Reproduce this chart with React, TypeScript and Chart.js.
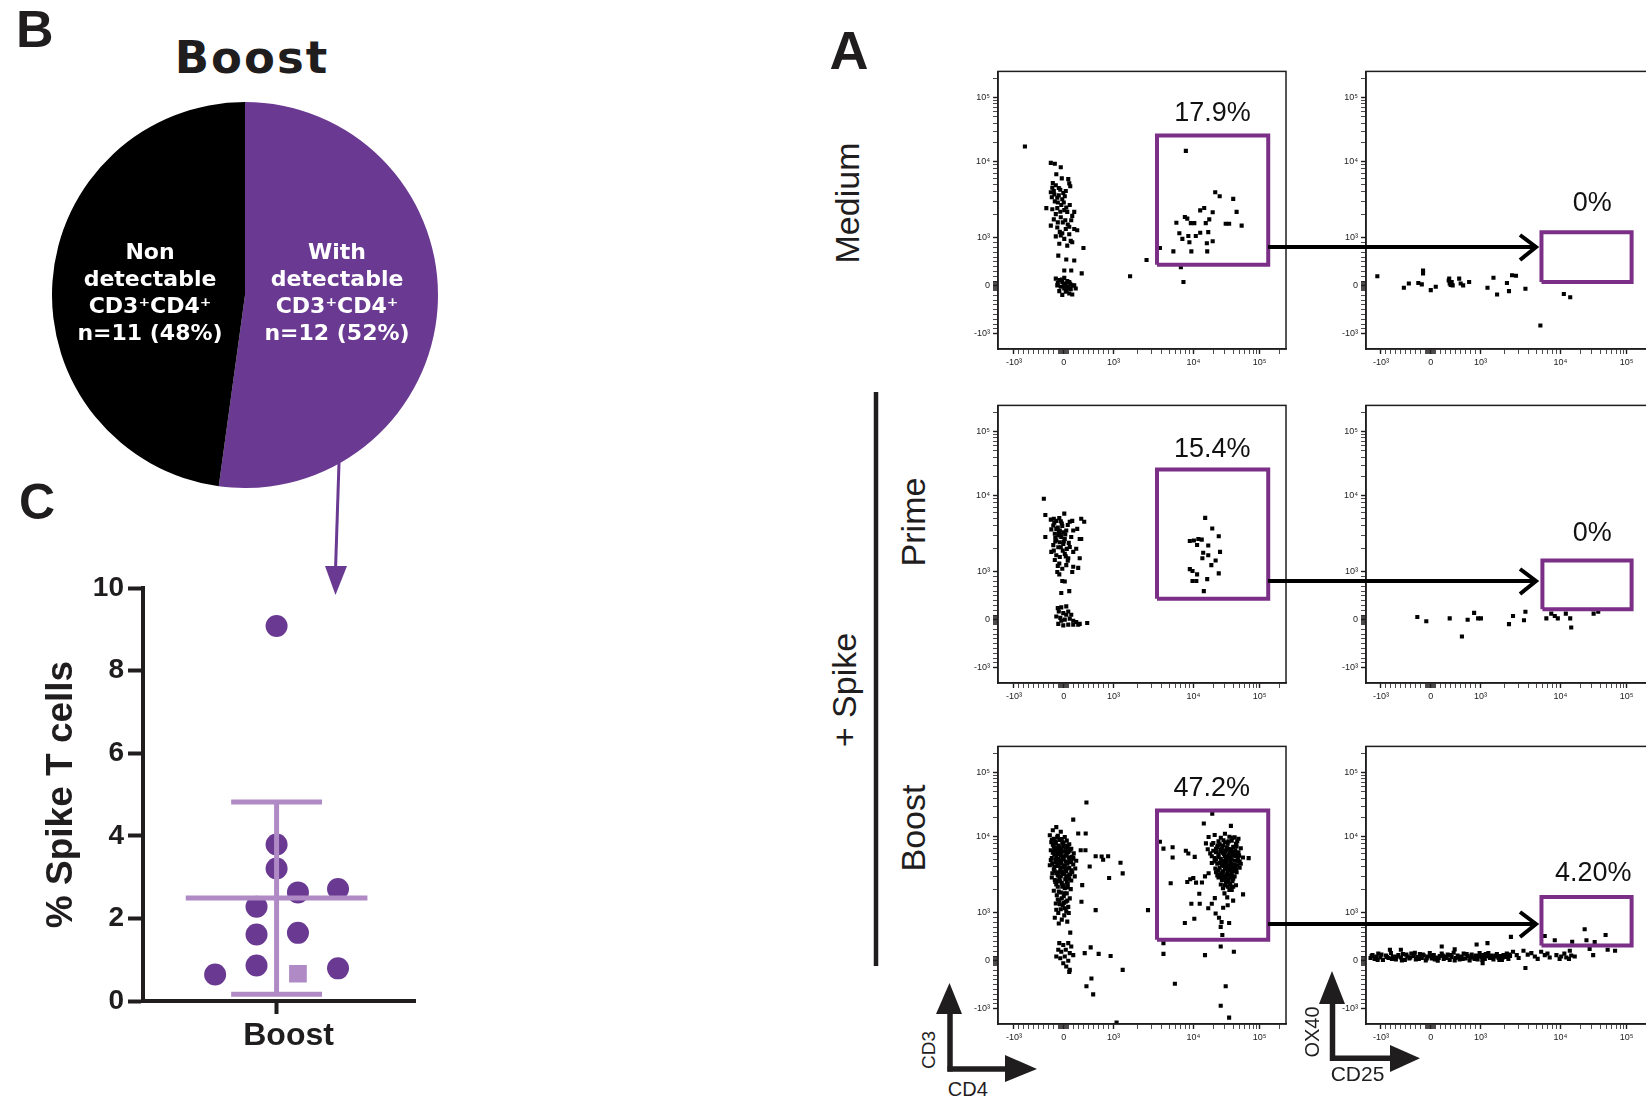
import React, { useEffect, useRef } from 'react';
import { Chart, registerables } from 'chart.js';
Chart.register(...registerables);

const ARIAL = '"Liberation Sans", Arial, Helvetica, sans-serif';
const DEJAVU = '"DejaVu Sans", Verdana, sans-serif';
const PURPLE = '#6a3a92';
const LIGHT_PURPLE = '#b08ac5';
const GATE_PURPLE = '#7b2f86';
const INK = '#1f1d1e';

// ---------------- Panel B (pie) ----------------
const pieGroups = ['With detectable CD3+CD4+', 'Non detectable CD3+CD4+'];
const pieCounts = [12, 11];
const piePercents = [52, 48];

// ---------------- Panel C (dot plot) ----------------
const cCategory = ['Boost'];
const cTicks = [0, 2, 4, 6, 8, 10];
const spikeValues = [9.08, 3.79, 3.21, 2.63, 2.71, 2.28, 1.61, 1.65, 0.86, 0.64, 0.79];
const spikeJitter = [0, 0, 0, 0.16, 0.46, -0.15, -0.15, 0.16, -0.15, -0.46, 0.46];
const spikeSquareValues = [0.66];
const spikeSquareJitter = [0.16];

// ---------------- Panel A (flow cytometry) ----------------
const flowMajorTicks = [-1000, 0, 1000, 10000, 100000];
const flowMajorLabels = ['-10³', '0', '10³', '10⁴', '10⁵'];
const flowMinorTicks = [-900, -800, -700, -600, -500, -400, -300, -200, -100, -80, -60, -40, -20, 20, 40, 60, 80,
  100, 200, 300, 400, 500, 600, 700, 800, 900, 2000, 3000, 4000, 5000, 6000, 7000, 8000, 9000,
  20000, 30000, 40000, 50000, 60000, 70000, 80000, 90000, 200000];

const percentLabels = [['17.9%', '0%'], ['15.4%', '0%'], ['47.2%', '4.20%']];
const rowNames = ['Medium', 'Prime', 'Boost'];

// gates: [min, max] on each axis (raw fluorescence)
const gateCD4 = [3500, 135000];
const gateCD3 = [440, 25500];
const gateCD25 = [[5800, 119000], [5960, 119000], [5800, 119000]];
const gateOX40 = [[80, 1190], [220, 1410], [320, 1610]];

const mediumCD4CD3 = [
  [-780, 17100],
  [-260, 9570], [-180, 9300], [-60, 8400], [90, 5870], [110, 5160], [130, 4730],
  [-230, 4530], [-160, 4870], [-70, 4270], [-10, 3870], [-190, 3700], [-130, 3350], [-30, 3200], [-260, 3960],
  [-350, 2450], [-230, 2370], [-130, 2450], [10, 2310], [70, 2190], [170, 1940], [210, 2190], [-160, 2050], [-60, 1860],
  [-260, 1450], [-130, 1370], [40, 1310], [210, 1310], [270, 1260], [110, 1120], [-60, 1080], [10, 980], [140, 940],
  [-90, 880], [70, 840], [170, 910], [395, 790], [-110, 630], [50, 550], [210, 530], [10, 320], [150, 320], [360, 260],
  [-200, 4100], [-100, 3600], [-50, 2700], [0, 2900], [50, 2500], [-120, 2900], [-20, 1600], [80, 1500], [-80, 1200], [150, 1700],
  [-150, 6800], [-40, 6000], [-220, 5200], [-100, 4500], [40, 4100], [-240, 3400], [20, 3500], [-180, 3000], [120, 2700],
  [-70, 2200], [-200, 1750], [30, 1700], [-120, 1600], [110, 1400], [-30, 1150], [-160, 1050],
  [-160, 150], [-90, 120], [-30, 80], [40, 50], [110, 80], [170, 10], [-130, 10], [-60, -20], [10, -55], [70, -20],
  [140, -70], [210, 10], [240, -55], [-90, -110], [40, -125], [110, -160], [170, -180], [-30, -190], [70, 100], [10, 165],
  [-120, 60], [0, 20], [60, -90], [130, 40], [-40, 130], [90, -40],
  [1610, 200], [2590, 540], [6980, 390], [7520, 80],
  [8060, 14600], [3810, 790], [5620, 720], [6130, 1580], [6680, 1150], [7290, 980], [7830, 1880], [8400, 1790],
  [8660, 1060], [8930, 910], [9300, 1560], [9450, 720], [10350, 1560], [10900, 1060], [12700, 1170], [12700, 2290],
  [14600, 2460], [15400, 1560], [16000, 890], [16200, 720], [16800, 1190], [17400, 1750], [19600, 2170], [19600, 930],
  [21400, 3960], [25000, 3500], [30800, 1530], [34700, 1530], [40000, 3240], [45000, 2190], [53600, 1450],
];

const mediumCD25OX40 = [
  [-1110, 200], [-540, -40], [-440, 50], [-250, 60], [-180, 30], [-155, 320], [-155, 260], [0, -90], [100, -20],
  [370, 150], [380, 50], [420, 80], [440, 10], [360, 110], [400, 20], [570, 150], [600, 50], [650, 10], [770, 80],
  [1220, -40], [1450, 170], [1610, -180], [2140, 60], [2270, -110], [2480, 220], [2780, 210], [3650, -60],
  [5620, -830], [11300, -170], [14100, -240],
];

const primeCD4CD3 = [
  [-400, 9040], [-370, 5540], [-370, 2860],
  [-260, 4830], [-200, 4960], [-150, 4650], [-90, 5050], [10, 5770], [120, 4530], [170, 4650], [350, 4960], [410, 4530],
  [-210, 4040], [-150, 3650], [-80, 3480], [-10, 3290], [-180, 3160], [-110, 2990], [-50, 2860], [20, 2700], [-150, 2590],
  [-80, 2440], [-10, 2330], [-210, 2240], [50, 3480], [-30, 3990],
  [190, 3480], [270, 3650], [150, 2860], [320, 2700], [350, 2700],
  [-120, 3800], [-60, 3100], [0, 2500], [-170, 2800], [-40, 4300], [60, 2000], [-20, 1900], [-110, 2100],
  [-190, 4400], [-60, 4600], [80, 4100], [-250, 3600], [-100, 3300], [30, 3100], [-170, 2500], [100, 2400], [-60, 2100],
  [-200, 1900], [40, 1600], [-120, 1200], [80, 1400], [-30, 1100],
  [-250, 1830], [-150, 1650], [-80, 1570], [20, 1720], [90, 1510], [190, 1830], [250, 2010], [120, 2120], [320, 1510],
  [290, 1130], [-180, 1430], [-90, 1290], [50, 1230], [190, 1170], [170, 1000], [-130, 1000], [-90, 950], [-30, 810],
  [20, 800], [-50, 560], [110, 600],
  [-120, 245], [-50, 260], [50, 280], [-100, 175], [-10, 140], [90, 175], [150, 105], [-150, 70], [-70, 40], [20, 5],
  [120, 25], [190, -20], [250, -45], [320, -85], [470, -65], [-110, -85], [-10, -115], [90, -100], [190, -100],
  [290, -100], [-50, -20], [50, 105],
  [15100, 5080], [19300, 3700], [24200, 2930], [11900, 2700], [10200, 2580], [9040, 2540], [13400, 2640], [11400, 2250],
  [16800, 2220], [25300, 1830], [14100, 1780], [16800, 1650], [13700, 1510], [21700, 1410], [18700, 1230], [9040, 1090],
  [9770, 1030], [24200, 970], [11400, 950], [9770, 810], [11100, 810], [16200, 850], [14400, 600],
];

const primeCD25OX40 = [
  [-270, 60], [-90, -30], [380, 30], [625, -350], [740, 0], [870, 145], [950, 30], [1010, 30], [2270, -90],
  [2550, 80], [3500, -10], [3650, 170], [6680, 30], [7700, 130], [8520, 80], [9300, 30], [12100, 130],
  [14100, 30], [14600, -160], [31800, 130], [37300, 170],
];

const boostCD4CD3 = [
  // CD4- population
  [-150, 14000], [-220, 12500], [-60, 11800], [-280, 10400], [-120, 10200], [20, 9800], [-200, 9300], [-90, 9000],
  [60, 8800], [-250, 8400], [-160, 8200], [-30, 8000], [110, 7900], [-200, 7400], [-80, 7200], [30, 7100], [150, 6900],
  [-260, 6600], [-140, 6500], [-20, 6300], [90, 6200], [200, 6000], [-190, 5800], [-60, 5700], [40, 5600], [160, 5400],
  [-240, 5200], [-110, 5100], [0, 5000], [120, 4900], [250, 4800], [-170, 4600], [-50, 4500], [70, 4400], [190, 4300],
  [-280, 4200], [-130, 4100], [-10, 4000], [110, 3900], [230, 3800], [-200, 3700], [-70, 3600], [50, 3500], [170, 3400],
  [-150, 3300], [-20, 3200], [100, 3100], [220, 3000], [-240, 2900], [-90, 2800], [30, 2750], [150, 2650], [-170, 2550],
  [-40, 2450], [80, 2400], [-120, 2200], [20, 2100], [140, 2050], [-200, 1950], [-60, 1850], [60, 1800], [-140, 1700],
  [0, 1650], [120, 1550], [-90, 1450], [40, 1400], [-160, 1330], [-20, 1250], [90, 1200], [-60, 1120], [50, 1050],
  [-110, 1000], [10, 950], [-180, 900], [-40, 860], [70, 820], [-100, 780],
  [-130, 9800], [-40, 9200], [-220, 7800], [-110, 7600], [0, 7500], [80, 7000], [-180, 6900], [-80, 6600], [40, 6400],
  [-220, 6100], [-120, 5900], [-10, 5500], [100, 5300], [-160, 5000], [-70, 4800], [40, 4700], [150, 4600], [-230, 4400],
  [-100, 4300], [20, 4200], [-60, 3900], [60, 3800], [-180, 3500], [-100, 3400], [10, 3300], [130, 3200], [-60, 3000],
  [70, 2900], [-120, 2600], [0, 2300],
  [-240, 9000], [-170, 8600], [-10, 8300], [70, 7600], [-140, 7100], [-50, 6900], [120, 6500], [-200, 6300], [-90, 6100],
  [60, 5900], [-150, 5400], [-30, 5300], [190, 5100], [-260, 4900], [-120, 4700], [90, 4600], [-190, 4000], [30, 3700],
  [-40, 3450], [150, 3600], [-230, 3300], [-120, 3100], [50, 3000], [-180, 2700], [110, 2800], [-70, 2600], [60, 2550],
  [-150, 2350], [-30, 2200], [80, 2150], [-100, 1900], [10, 1800], [-40, 1550], [70, 1450], [-120, 1500], [0, 1350],
  [-80, 1300], [20, 1150], [-150, 1100], [100, 1000],
  [190, 18300], [455, 34000], [290, 11100], [440, 11100], [340, 6600], [435, 6600], [190, 5240], [520, 4040], [370, 2310],
  [355, 1400], [640, 1090], [130, 590], [640, 5500], [760, 5450], [790, 4950], [890, 5500], [910, 2860], [1220, 4530],
  [1300, 3290],
  [-90, 370], [-10, 330], [90, 370], [150, 300], [-110, 230], [-50, 190], [40, 230], [120, 160], [190, 120], [-150, 90],
  [-70, 55], [20, 90], [90, 0], [-10, -50], [50, -120], [120, -190], [110, -230],
  [420, 160], [540, 280], [700, 145], [940, 100], [1300, -190], [455, -530], [555, -370], [590, -700], [1090, -1520],
  [2700, 1090], [4220, 370], [4220, 145], [5870, -480],
  // CD4+ population
  [3810, 8500], [4220, 6920], [5500, 7200], [5500, 5300], [5200, 2440], [8060, 6490], [8660, 5970], [10500, 5400],
  [9450, 1320], [7830, 790], [10350, 880], [8400, 2540], [9150, 2760], [10000, 2860], [11000, 2490], [12300, 1780],
  [12500, 1320], [14400, 15900], [19300, 22700], [36900, 14600],
  [17000, 9800], [21000, 10500], [26000, 9600], [30000, 11000], [35000, 9900], [42000, 9700], [48000, 9300], [38000, 8800],
  [24000, 8600], [15500, 8100], [19000, 7800], [28000, 7600], [33000, 8000], [45000, 7400], [52000, 7000], [16500, 6800],
  [22000, 6900], [26000, 6700], [31000, 6600], [37000, 6800], [41000, 6300], [48000, 6200], [18000, 6000], [24000, 5800],
  [29000, 5900], [34000, 5700], [39000, 5600], [44000, 5500], [56000, 5300], [21000, 5200], [26000, 5100], [31000, 5000],
  [36000, 4900], [42000, 4800], [47000, 4700], [19000, 4500], [23000, 4400], [28000, 4300], [33000, 4200], [38000, 4100],
  [43000, 4000], [50000, 3900], [25000, 3900], [30000, 3700], [35000, 3600], [40000, 3500], [45000, 3400], [22000, 3400],
  [27000, 3300], [32000, 3200], [37000, 3100], [42000, 3000], [24000, 2900], [29000, 2800], [34000, 2700], [39000, 2600],
  [31000, 2500], [36000, 2400], [26000, 2350], [33000, 2200], [44000, 2300], [28000, 2100], [38000, 2000],
  [20000, 8200], [23000, 7300], [27000, 7000], [32000, 7200], [36000, 6300], [40000, 5900], [45000, 6000], [22000, 6200],
  [27500, 6100], [30000, 5500], [35000, 5300], [38000, 5000], [43000, 5700], [24000, 5400], [28000, 4800], [32000, 4600],
  [37000, 4400], [41000, 4300], [46000, 4200], [21000, 4700], [26000, 4600], [29000, 4100], [34000, 4000], [39000, 3800],
  [44000, 3700], [24000, 3600], [28000, 3500], [33000, 3400], [38000, 3300], [31000, 3000], [36000, 2900], [27000, 2700],
  [33000, 2500], [40000, 2200], [30000, 2300], [35000, 6000], [30000, 8400], [25000, 7900], [40000, 7300], [46000, 8600],
  [19000, 5500], [22000, 5000], [25000, 4500], [27000, 4200], [30000, 4400], [33000, 3800], [36000, 3700], [41000, 3900],
  [23000, 3100], [26000, 3000], [29000, 3100], [35000, 3100], [40000, 2800], [30000, 6300], [34000, 6900], [38000, 6200],
  [43000, 6600], [47000, 5200], [50000, 4700], [20000, 6500], [23500, 7600], [28500, 8900], [34000, 8600], [39000, 9600],
  [44000, 8000], [49000, 5600], [52000, 4400], [32000, 5200], [36500, 5600], [25500, 6400], [21500, 3800], [24500, 3200],
  [31500, 2700], [37500, 2200], [35000, 2000], [29500, 1800], [32500, 1600],
  [13500, 2500], [17000, 3300], [15000, 3000], [68400, 5200], [56300, 1750], [39900, 1450], [28200, 1170], [33000, 1260],
  [21100, 1560], [19000, 1320], [16800, 1150], [21700, 990], [24400, 900], [26700, 810], [25900, 710], [27400, 540],
  [34700, 790], [25900, 300], [40900, 190], [15000, 120], [30800, -530], [25900, -940], [34700, -1310],
];

const boostCD25OX40 = [
  [-1350, 60], [-1280, 120], [-1200, 40], [-1150, 90], [-1080, 150], [-1020, 70], [-960, 20], [-900, 110], [-850, 60],
  [-800, 160], [-760, 90], [-700, 30], [-650, 120], [-600, 70], [-560, 140], [-520, 20], [-470, 90], [-430, 50],
  [-390, 150], [-340, 100], [-300, 30], [-260, 80], [-220, 140], [-180, 60], [-140, 110], [-100, 10], [-60, 90],
  [-20, 160], [20, 50], [60, 120], [100, 70], [140, 0], [180, 100], [220, 150], [260, 40], [300, 90], [340, 130],
  [380, 20], [420, 80], [460, 170], [500, 60], [540, 110], [580, 30], [620, 90], [660, 150], [700, 50], [740, 100],
  [780, 10], [820, 130], [860, 70], [900, 110], [940, 30], [980, 160], [1030, 80], [1080, 120], [1130, 40], [1190, 100],
  [1250, 160], [1310, 60], [1380, 110], [1450, 30], [1520, 90], [1600, 140], [1680, 60], [1760, 100], [1850, 20],
  [1940, 120], [2030, 80], [2130, 150], [2230, 40], [2340, 100],
  [-1310, 100], [-1100, 20], [-990, 130], [-880, 80], [-780, 40], [-680, 90], [-580, 10], [-490, 130], [-410, 70],
  [-320, 170], [-240, 40], [-160, 130], [-80, 50], [0, 100], [80, 30], [160, 60], [240, 110], [320, 60], [400, 120],
  [480, 10], [560, 80], [640, 40], [720, 140], [800, 70], [880, 40], [960, 100], [1050, 20], [1160, 140], [1280, 90],
  [1410, 70], [1560, 110], [1720, 20], [1900, 70], [2080, 110], [2280, 130],
  [2550, 190], [2840, 120], [3450, 210], [4330, 160], [4790, 90], [5750, 190], [6380, 120], [7360, 70], [8930, 120],
  [10300, 90], [12300, 70], [14600, 110], [16500, 90], [3000, 60], [3900, 130], [5200, 40], [6900, 150], [9800, 40],
  [11500, 150], [13500, 40],
  [3650, -150], [220, 300], [920, 340], [1220, 370], [2400, 500], [-820, 230], [1060, -50], [-600, 230], [480, 240],
  [6370, 520], [8520, 430], [15100, 400], [23300, 660], [24800, 430], [33000, 390], [48200, 540], [51800, 230],
  [67000, 210], [31300, 120], [27700, 250], [13900, 210],
];

const leftEvents = [mediumCD4CD3, primeCD4CD3, boostCD4CD3];
const rightEvents = [mediumCD25OX40, primeCD25OX40, boostCD25OX40];

// biexponential-like display transform (linear near zero, log above 10^3)
const T = (v: number) => {
  const a = Math.abs(v);
  const s = v < 0 ? -1 : 1;
  if (a <= 1000) return v / 1000;
  if (a <= 10000) return s * (1 + 1.6 * Math.log10(a / 1000));
  return s * (2.6 + 1.33 * Math.log10(a / 10000));
};

const framePlugin = {
  id: 'frame',
  afterDraw(chart: any) {
    const { ctx, chartArea: a } = chart;
    ctx.save();
    ctx.strokeStyle = INK;
    ctx.lineWidth = 1.5;
    ctx.strokeRect(a.left, a.top, a.right - a.left, a.bottom - a.top);
    ctx.restore();
  },
};

function flowConfig(events: number[][], gx: number[], gy: number[], xMin: number, xMax: number) {
  const majorsT = flowMajorTicks.map(T);
  const allT = [...flowMajorTicks, ...flowMinorTicks].map(T);
  const majorIndex = (v: number) => majorsT.findIndex((m) => Math.abs(m - v) < 1e-9);
  const axis = (fit: (s: any) => void) => ({
    type: 'linear',
    afterBuildTicks: (s: any) => { s.ticks = allT.map((v) => ({ value: v })); },
    afterFit: fit,
    ticks: {
      autoSkip: false, maxRotation: 0, minRotation: 0, padding: 3, color: '#222',
      font: { family: ARIAL, size: 9 },
      callback: (v: any) => { const i = majorIndex(Number(v)); return i >= 0 ? flowMajorLabels[i] : ''; },
    },
    grid: {
      drawOnChartArea: false, drawTicks: true, tickLength: 5, color: INK,
      tickWidth: (c: any) => (c.tick && majorIndex(c.tick.value) >= 0 ? 1.4 : 0.8),
    },
    border: { display: true, color: INK, width: 1.5 },
  });
  const gate = [
    { x: T(gx[0]), y: T(gy[0]) }, { x: T(gx[1]), y: T(gy[0]) }, { x: T(gx[1]), y: T(gy[1]) },
    { x: T(gx[0]), y: T(gy[1]) }, { x: T(gx[0]), y: T(gy[0]) },
  ];
  return {
    type: 'scatter',
    data: {
      datasets: [
        {
          type: 'line', data: gate, borderColor: GATE_PURPLE, borderWidth: 4, pointRadius: 0,
          fill: false, tension: 0, borderJoinStyle: 'miter', order: 0,
        },
        {
          type: 'scatter', data: events.map(([x, y]) => ({ x: T(x), y: T(y) })),
          pointStyle: 'rect', pointRadius: 2.9, backgroundColor: '#000', borderWidth: 0, order: 1,
        },
      ],
    },
    options: {
      animation: false, responsive: false, devicePixelRatio: 1, events: [],
      layout: { padding: { top: 6, right: 6, left: 0, bottom: 0 } },
      plugins: { legend: { display: false }, tooltip: { enabled: false } },
      scales: {
        x: { ...axis((s: any) => { s.height = 32; }), min: xMin, max: xMax },
        y: { ...axis((s: any) => { s.width = 45; }), min: -1.32, max: 4.48 },
      },
    },
    plugins: [framePlugin],
  };
}

function pieConfig() {
  return {
    type: 'pie',
    data: {
      labels: pieGroups,
      datasets: [{ data: pieCounts, backgroundColor: [PURPLE, '#000000'], borderWidth: 0 }],
    },
    options: {
      animation: false, responsive: false, devicePixelRatio: 1, events: [],
      layout: { padding: 0 },
      plugins: { legend: { display: false }, tooltip: { enabled: false } },
    },
  };
}

function dotConfig() {
  const all = [...spikeValues, ...spikeSquareValues];
  const mean = all.reduce((a, b) => a + b, 0) / all.length;
  const sd = Math.sqrt(all.reduce((a, b) => a + (b - mean) ** 2, 0) / (all.length - 1));
  const barStyle = { type: 'line', borderColor: LIGHT_PURPLE, borderWidth: 5, pointRadius: 0, fill: false, order: 0, borderCapStyle: 'butt' };
  return {
    type: 'scatter',
    data: {
      datasets: [
        { ...barStyle, data: [{ x: -0.68, y: mean }, { x: 0.68, y: mean }] },
        { ...barStyle, data: [{ x: 0, y: mean - sd }, { x: 0, y: mean + sd }] },
        { ...barStyle, data: [{ x: -0.34, y: mean + sd }, { x: 0.34, y: mean + sd }] },
        { ...barStyle, data: [{ x: -0.34, y: mean - sd }, { x: 0.34, y: mean - sd }] },
        {
          type: 'scatter', data: spikeValues.map((v, i) => ({ x: spikeJitter[i], y: v })),
          pointStyle: 'circle', pointRadius: 11, backgroundColor: PURPLE, borderWidth: 0, order: 1,
        },
        {
          type: 'scatter', data: spikeSquareValues.map((v, i) => ({ x: spikeSquareJitter[i], y: v })),
          pointStyle: 'rect', pointRadius: 12.5, backgroundColor: LIGHT_PURPLE, borderWidth: 0, order: 1,
        },
      ],
    },
    options: {
      animation: false, responsive: false, devicePixelRatio: 1, events: [],
      layout: { padding: { top: 28, right: 10, left: 0, bottom: 0 } },
      plugins: { legend: { display: false }, tooltip: { enabled: false } },
      scales: {
        x: {
          type: 'linear', min: -1, max: 1.04,
          afterBuildTicks: (s: any) => { s.ticks = [{ value: 0 }]; },
          afterFit: (s: any) => { s.height = 70; },
          ticks: {
            autoSkip: false, maxRotation: 0, minRotation: 0, padding: 3, labelOffset: 12, color: INK,
            font: { family: ARIAL, size: 32, weight: 'bold' }, callback: () => cCategory[0],
          },
          grid: { drawOnChartArea: false, drawTicks: true, tickLength: 13, tickWidth: 4, color: INK },
          border: { display: true, color: INK, width: 4 },
        },
        y: {
          type: 'linear', min: 0, max: 10,
          afterBuildTicks: (s: any) => { s.ticks = cTicks.map((v) => ({ value: v })); },
          afterFit: (s: any) => { s.width = 103; },
          ticks: { padding: 4, color: INK, font: { family: ARIAL, size: 28, weight: 'bold' } },
          grid: { drawOnChartArea: false, drawTicks: true, tickLength: 15, tickWidth: 4, color: INK },
          border: { display: true, color: INK, width: 4 },
          title: {
            display: true, text: '% Spike T cells', color: INK,
            font: { family: ARIAL, size: 37, weight: 'bold' }, padding: { top: 0, bottom: 0 },
          },
        },
      },
    },
  };
}

function ChartBox({ left, top, width, height, build }: { left: number; top: number; width: number; height: number; build: () => any }) {
  const ref = useRef<HTMLCanvasElement>(null);
  useEffect(() => {
    const chart = new Chart(ref.current as HTMLCanvasElement, build());
    return () => chart.destroy();
  }, []);
  return <canvas ref={ref} width={width} height={height} style={{ position: 'absolute', left, top, width, height }} />;
}

function Txt({ x, y, size, children, weight = 'normal', family = ARIAL, color = INK, rotate = false, ls = 0, align = 'center' }:
  { x: number; y: number; size: number; children: any; weight?: string; family?: string; color?: string; rotate?: boolean; ls?: number; align?: string }) {
  const style: any = {
    position: 'absolute', whiteSpace: 'nowrap', fontSize: size, lineHeight: `${size}px`, fontFamily: family,
    fontWeight: weight, color, letterSpacing: ls, zIndex: 5,
  };
  if (rotate) {
    style.left = x; style.top = y; style.transform = 'translate(-50%, -50%) rotate(-90deg)';
  } else {
    style.top = y - 0.846 * size;
    style.left = x;
    if (align === 'center') style.transform = 'translateX(-50%)';
  }
  return <div style={style}>{children}</div>;
}

const COL_LEFT = [998, 1366];
const ROW_TOP = [69, 403, 744];
const FRAME_W = 288;
const FRAME_H = 280;
const ARROW_Y = [247, 581, 924];
const LABEL_POS = [[[1212.5, 121.4], [1592.3, 211.4]], [[1212.3, 458], [1592.3, 541.4]], [[1211.7, 796.4], [1593.3, 881.4]]];
const ROW_LABEL_Y = [203, 522, 828];

export default function App() {
  const flows: any[] = [];
  for (let r = 0; r < 3; r++) {
    for (let c = 0; c < 2; c++) {
      const fl = COL_LEFT[c];
      const ft = ROW_TOP[r];
      const events = c === 0 ? leftEvents[r] : rightEvents[r];
      const gx = c === 0 ? gateCD4 : gateCD25[r];
      const gy = c === 0 ? gateCD3 : gateOX40[r];
      const xr = c === 0 ? [-1.32, 4.46] : [-1.3, 4.48];
      flows.push(
        <ChartBox key={`f${r}${c}`} left={fl - 45} top={ft - 6} width={45 + FRAME_W + 6} height={6 + FRAME_H + 32}
          build={() => flowConfig(events, gx, gy, xr[0], xr[1])} />
      );
    }
  }
  const pieTextLeft = ['Non', 'detectable', 'CD3⁺CD4⁺', `n=${pieCounts[1]} (${piePercents[1]}%)`];
  const pieTextRight = ['With', 'detectable', 'CD3⁺CD4⁺', `n=${pieCounts[0]} (${piePercents[0]}%)`];
  const pieBase = [260, 287, 314, 341];
  return (
    <div style={{ position: 'absolute', left: 0, top: 0, width: 1646, height: 1099, overflow: 'hidden', background: '#fff' }}>
      {/* Panel B */}
      <Txt x={16} y={47} size={52} weight="bold" align="left">B</Txt>
      <Txt x={252} y={73} size={45} weight="bold" family={DEJAVU} ls={2}>Boost</Txt>
      <ChartBox left={52} top={102} width={386} height={386} build={pieConfig} />
      {pieTextLeft.map((t, i) => (
        <Txt key={`pl${i}`} x={150} y={pieBase[i]} size={22} weight="bold" family={DEJAVU} color="#fff">{t}</Txt>
      ))}
      {pieTextRight.map((t, i) => (
        <Txt key={`pr${i}`} x={337} y={pieBase[i]} size={22} weight="bold" family={DEJAVU} color="#fff">{t}</Txt>
      ))}

      {/* Panel C */}
      <Txt x={19} y={519} size={50} weight="bold" align="left">C</Txt>
      <ChartBox left={40} top={560} width={388} height={511} build={dotConfig} />

      {/* Panel A */}
      <Txt x={849} y={69} size={54} weight="bold">A</Txt>
      <Txt x={847} y={ROW_LABEL_Y[0]} size={34} rotate>{rowNames[0]}</Txt>
      <Txt x={913} y={ROW_LABEL_Y[1]} size={34} rotate>{rowNames[1]}</Txt>
      <Txt x={913} y={ROW_LABEL_Y[2]} size={34} rotate>{rowNames[2]}</Txt>
      <Txt x={844} y={690} size={34} rotate>+ Spike</Txt>
      {flows}
      {percentLabels.map((row, r) => row.map((t, c) => (
        <Txt key={`pc${r}${c}`} x={LABEL_POS[r][c][0]} y={LABEL_POS[r][c][1]} size={27} color="#111">{t}</Txt>
      )))}
      <Txt x={927.5} y={1050} size={19} rotate>CD3</Txt>
      <Txt x={967.8} y={1096} size={20}>CD4</Txt>
      <Txt x={1311.7} y={1031.7} size={20} rotate>OX40</Txt>
      <Txt x={1357.5} y={1080.7} size={21}>CD25</Txt>

      <svg width={1646} height={1099} style={{ position: 'absolute', left: 0, top: 0, zIndex: 10, pointerEvents: 'none' }}>
        {/* pie -> dot plot arrow */}
        <line x1={339} y1={463} x2={335.5} y2={570} stroke={PURPLE} strokeWidth={3} />
        <polygon points="325,566 347,566 335.5,595" fill={PURPLE} />
        {/* + Spike bracket */}
        <line x1={876} y1={392} x2={876} y2={966} stroke={INK} strokeWidth={4.5} />
        {/* gate arrows */}
        {ARROW_Y.map((y, i) => (
          <g key={`ar${i}`}>
            <line x1={1268} y1={y} x2={1535} y2={y} stroke="#000" strokeWidth={4} />
            <polyline points={`1520,${y - 12} 1536,${y} 1520,${y + 13}`} fill="none" stroke="#000" strokeWidth={4} />
          </g>
        ))}
        {/* CD3 / CD4 axes arrows */}
        <line x1={950} y1={1071.5} x2={950} y2={1010} stroke={INK} strokeWidth={5.5} />
        <polygon points="936,1014 962,1014 949.5,983" fill={INK} />
        <line x1={947.5} y1={1069} x2={1008} y2={1069} stroke={INK} strokeWidth={5.5} />
        <polygon points="1005,1055 1005,1082 1037,1069" fill={INK} />
        {/* OX40 / CD25 axes arrows */}
        <line x1={1332.5} y1={1061} x2={1332.5} y2={1000} stroke={INK} strokeWidth={5.5} />
        <polygon points="1319,1004 1345,1004 1332,971" fill={INK} />
        <line x1={1330} y1={1058.3} x2={1393} y2={1058.3} stroke={INK} strokeWidth={5.5} />
        <polygon points="1390,1045 1390,1072 1420,1058.3" fill={INK} />
      </svg>
    </div>
  );
}
